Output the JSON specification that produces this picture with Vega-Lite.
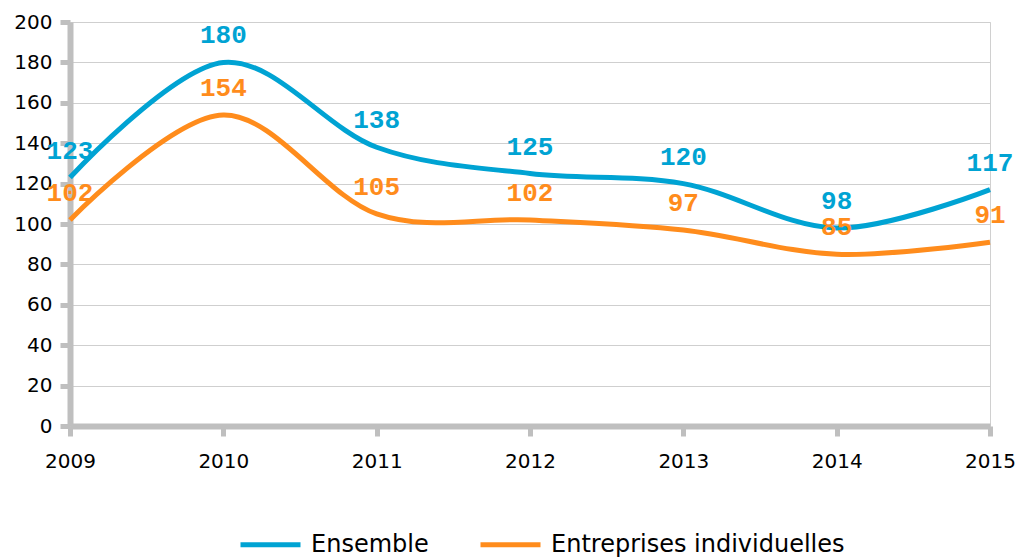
{
  "$schema": "https://vega.github.io/schema/vega-lite/v6.json",
  "width": 920,
  "height": 404,
  "autosize": {"type": "none"},
  "padding": {"left": 70, "top": 22, "right": 32, "bottom": 132},
  "background": "white",
  "data": {
    "values": [
      {"year": 2009, "series": "Ensemble", "value": 123},
      {"year": 2010, "series": "Ensemble", "value": 180},
      {"year": 2011, "series": "Ensemble", "value": 138},
      {"year": 2012, "series": "Ensemble", "value": 125},
      {"year": 2013, "series": "Ensemble", "value": 120},
      {"year": 2014, "series": "Ensemble", "value": 98},
      {"year": 2015, "series": "Ensemble", "value": 117},
      {"year": 2009, "series": "Entreprises individuelles", "value": 102},
      {"year": 2010, "series": "Entreprises individuelles", "value": 154},
      {"year": 2011, "series": "Entreprises individuelles", "value": 105},
      {"year": 2012, "series": "Entreprises individuelles", "value": 102},
      {"year": 2013, "series": "Entreprises individuelles", "value": 97},
      {"year": 2014, "series": "Entreprises individuelles", "value": 85},
      {"year": 2015, "series": "Entreprises individuelles", "value": 91}
    ]
  },
  "encoding": {
    "x": {
      "field": "year",
      "type": "quantitative",
      "scale": {"domain": [2009, 2015], "nice": false, "zero": false},
      "axis": {
        "title": null,
        "values": [2009, 2010, 2011, 2012, 2013, 2014, 2015],
        "format": "d",
        "grid": false,
        "labelFlush": false,
        "labelOverlap": false,
        "labelPadding": 15,
        "tickSize": 10
      }
    },
    "y": {
      "field": "value",
      "type": "quantitative",
      "scale": {"domain": [0, 200], "nice": false},
      "axis": {
        "title": null,
        "values": [0, 20, 40, 60, 80, 100, 120, 140, 160, 180, 200],
        "grid": true,
        "labelFlush": false,
        "labelOverlap": false,
        "labelPadding": 8,
        "tickSize": 10
      }
    },
    "color": {
      "field": "series",
      "type": "nominal",
      "scale": {
        "domain": ["Ensemble", "Entreprises individuelles"],
        "range": ["#00A3D3", "#FF8C1C"]
      },
      "legend": {
        "title": null,
        "orient": "none",
        "direction": "horizontal",
        "legendX": 168,
        "legendY": 490,
        "symbolType": "stroke",
        "symbolSize": 3600,
        "symbolStrokeWidth": 5,
        "labelFontSize": 24,
        "labelFont": "DejaVu Sans",
        "labelColor": "#000000",
        "labelOffset": 8,
        "labelLimit": 500,
        "columnPadding": 41
      }
    }
  },
  "layer": [
    {
      "mark": {"type": "line", "interpolate": "cardinal", "strokeWidth": 5}
    },
    {
      "mark": {
        "type": "text",
        "dy": -27,
        "font": "Liberation Mono",
        "fontWeight": "bold",
        "fontSize": 26,
        "baseline": "middle",
        "align": "center"
      },
      "encoding": {
        "text": {"field": "value", "type": "quantitative"}
      }
    }
  ],
  "config": {
    "view": {"stroke": "#D0D0D0", "strokeWidth": 1},
    "axis": {
      "domainColor": "#BFBFBF",
      "domainWidth": 6,
      "tickColor": "#BFBFBF",
      "tickWidth": 5,
      "gridColor": "#CFCFCF",
      "gridWidth": 1,
      "labelFont": "DejaVu Sans",
      "labelFontSize": 20,
      "labelColor": "#000000"
    }
  }
}
